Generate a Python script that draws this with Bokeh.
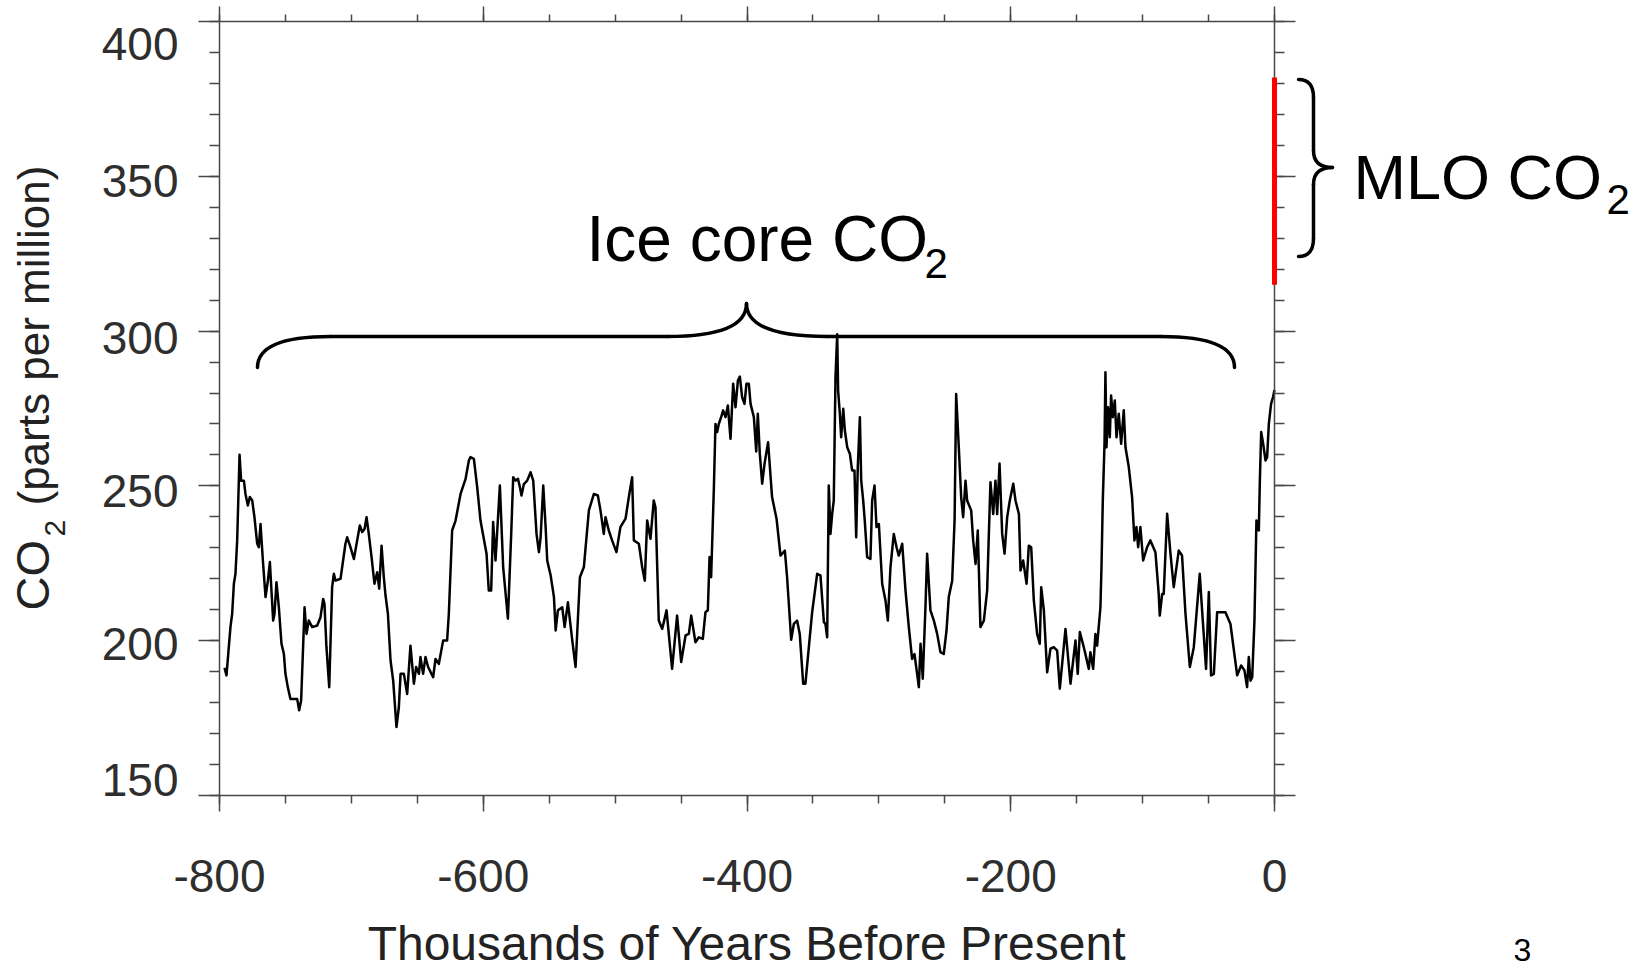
import math
from bokeh.plotting import figure
from bokeh.models import (LinearAxis, SingleIntervalTicker, Label, Range1d,
                          CustomLabelingPolicy)
from bokeh.embed import file_html
from bokeh.resources import INLINE

# ---------------- data ----------------
kyr_bp = [
    -796.2, -794.7, -791.7, -790.4, -789.1, -787.9, -786.6, -784.8, -783.6, -781.5,
    -780.3, -778.5, -777.0, -775.2, -773.5, -771.4, -770.2, -768.9, -767.1, -765.1,
    -763.3, -761.8, -760.6, -759.3, -758.3, -756.8, -755.0, -753.0, -751.2, -750.0,
    -748.2, -746.2, -743.6, -741.1, -739.6, -738.1, -735.5, -734.0, -732.3, -729.7,
    -725.9, -723.4, -721.4, -720.4, -718.9, -716.8, -714.6, -713.3, -712.0, -708.2,
    -704.5, -703.2, -700.7, -698.1, -695.6, -693.6, -691.8, -690.0, -688.5, -686.8,
    -684.7, -682.5, -680.4, -678.9, -677.1, -675.4, -674.1, -672.3, -670.3, -668.3,
    -665.8, -664.0, -662.7, -660.2, -657.7, -655.2, -652.6, -650.9, -648.8, -647.6,
    -645.6, -643.8, -641.8, -638.0, -636.2, -633.7, -630.4, -627.4, -626.1, -623.6,
    -621.0, -617.2, -613.4, -610.9, -609.7, -607.1, -604.6, -602.1, -597.5, -595.8,
    -594.0, -592.5, -590.7, -587.4, -584.9, -581.3, -578.8, -577.3, -575.5, -573.7,
    -572.2, -571.0, -569.2, -566.7, -564.1, -562.1, -559.6, -557.8, -556.5, -554.5,
    -552.7, -551.5, -548.9, -546.4, -545.1, -543.4, -540.1, -538.3, -535.8, -532.5,
    -530.0, -526.7, -523.7, -519.9, -516.1, -513.1,
    -511.1, -508.6, -507.3, -504.8, -502.3, -499.0, -496.0, -492.1, -489.6, -487.1,
    -485.8, -482.0, -479.5, -477.5, -475.7, -473.2, -470.7, -469.4, -466.9, -464.3,
    -461.0, -456.8, -453.0, -449.9, -446.6, -444.1, -442.3, -439.1, -436.5, -433.5,
    -431.5, -429.7, -428.4, -427.2, -425.1, -423.9, -422.6, -421.4, -419.6, -418.1,
    -416.3, -414.5, -412.5, -410.5, -408.7, -406.9, -405.4, -403.7, -401.9, -400.4,
    -398.6, -397.3, -394.8, -393.0, -391.8, -390.3, -388.5, -386.7, -384.0, -381.0,
    -377.6, -374.6, -371.3, -369.6, -366.5, -364.5, -362.0, -360.0, -357.4, -355.7,
    -353.1, -350.6, -346.8, -344.3, -341.7, -340.5, -339.2, -338.0, -336.7, -335.4,
    -334.2, -332.9, -331.6, -330.9, -329.6, -328.6, -327.0, -325.8, -324.0, -322.0,
    -320.3, -318.5, -317.2, -316.0, -314.4, -313.4, -311.9, -310.7, -308.9, -306.4,
    -305.1, -303.3, -301.8, -300.0, -297.5, -295.0, -293.2, -291.2, -288.7, -286.6,
    -284.9, -282.3, -279.8, -277.3, -274.8, -273.0, -271.0, -269.7, -268.4, -266.7,
    -264.6, -263.4, -260.9, -258.3, -255.8, -253.3, -250.8, -248.7, -247.0, -244.4,
    -242.6, -241.4, -239.4, -237.6, -236.1, -234.3, -233.1, -230.0, -228.5, -226.7,
    -225.0, -223.0, -220.4, -217.9, -215.4, -213.3, -211.6, -210.3, -208.5, -206.5,
    -204.7, -202.7, -200.7, -198.1, -196.4, -193.8, -192.6, -190.6, -188.0, -186.3,
    -184.5, -182.5, -180.0, -178.0, -176.9, -174.9, -172.4,
    -169.9, -167.4, -164.8, -162.8, -158.5, -154.7, -150.9, -149.2, -147.6, -144.6,
    -140.8, -139.6, -137.5, -135.8, -134.5, -133.3, -132.0, -131.2, -130.2, -128.9,
    -128.2, -127.4, -126.2, -124.9, -123.9, -122.6, -121.1, -119.8, -118.1, -116.3,
    -114.3, -113.0, -110.5, -108.0, -106.2, -104.7, -103.4, -101.7, -99.6, -96.6,
    -94.1, -90.3, -87.8, -87.0, -85.2, -84.0, -81.4, -78.9, -76.4, -72.6,
    -70.1, -67.5, -64.2, -61.2, -56.7, -54.9, -51.9, -49.8, -48.1, -46.0,
    -43.5, -37.2, -33.4, -28.3, -25.3, -22.8, -20.8, -19.5, -18.2, -16.9,
    -15.2, -13.7, -11.9, -11.1, -10.1, -8.6, -6.8, -5.6, -4.3, -2.6,
    -1.1, 0.0,
]
co2_ppm = [
    191.2, 188.8, 204.4, 208.7, 218.4, 221.6, 232.4, 260.1, 251.7, 251.7,
    247.4, 243.7, 246.4, 245.3, 239.9, 231.3, 230.2, 237.7, 225.9, 214.1,
    219.4, 225.4, 216.2, 206.5, 208.7, 218.9, 210.8, 199.0, 195.8, 189.3,
    185.0, 181.2, 181.2, 181.2, 177.5, 180.7, 210.8, 202.2, 206.5, 204.4,
    204.9, 207.6, 213.5, 211.9, 197.9, 185.0, 217.3, 221.6, 219.4, 220.0,
    231.3, 233.4, 230.2, 226.4, 232.4, 237.2, 235.1, 236.1, 239.9, 234.5,
    227.0, 218.4, 222.1, 216.8, 230.7, 220.5, 214.6, 208.7, 193.6, 187.1,
    172.1, 178.5, 189.3, 189.3, 182.8, 198.4, 186.1, 191.5, 189.3, 194.7,
    189.3, 194.7, 191.5, 188.2, 194.1, 192.5, 200.1, 200.1, 208.7, 235.6,
    238.8, 247.4, 252.3, 258.2, 259.3, 258.7, 249.6, 238.8, 228.1, 216.2,
    216.2, 238.3, 225.9, 250.1, 223.8, 207.1, 234.5, 252.8, 251.7, 252.3,
    249.6, 246.9, 250.6, 251.7, 254.4, 251.7, 234.5, 228.6, 233.4, 250.1,
    236.7, 225.9, 221.1, 214.1, 203.3, 209.8, 210.8, 204.4, 212.4, 200.1,
    191.5, 220.5, 223.8, 242.1, 247.4, 246.9,
    242.1, 234.5, 239.9, 235.6, 232.4, 228.6, 236.7, 239.4, 246.4, 252.8,
    232.4, 231.3, 223.8, 219.4, 238.8, 232.9, 245.3, 243.1, 206.5, 203.8,
    209.8, 190.9, 208.1, 193.1, 201.7, 202.2, 208.1, 199.5, 201.1, 200.6,
    209.2, 209.8, 227.0, 220.5, 249.6, 270.0, 267.4, 270.0, 272.2, 274.4,
    272.2, 276.0, 265.2, 283.0, 275.4, 284.0, 285.3, 278.7, 276.5, 283.0,
    283.0, 276.5, 272.2, 261.1, 273.3, 260.5, 250.7, 257.2, 264.1, 246.4,
    239.4, 227.5, 229.1, 220.5, 200.3, 205.4, 206.5, 202.2, 186.1, 186.1,
    197.9, 209.2, 221.6, 221.1, 206.0, 205.4, 201.1, 250.1, 234.5, 241.0,
    245.3, 285.1, 299.0, 280.8, 273.3, 265.7, 274.9, 267.9, 262.5, 260.4,
    255.0, 255.0, 233.4, 256.1, 272.2, 251.8, 245.3, 238.8, 227.0, 226.4,
    245.3, 250.1, 236.7, 237.7, 218.4, 213.0, 206.5, 223.8, 234.5, 230.2,
    227.5, 231.3, 216.2, 204.4, 194.1, 195.7, 189.3, 185.0, 199.0, 187.7,
    211.9, 228.1, 209.8, 206.5, 202.2, 196.3, 195.7, 203.3, 214.1, 219.4,
    238.8, 279.7, 262.5, 246.4, 239.9, 251.7, 245.3, 242.1, 232.4, 224.8,
    235.6, 204.4, 206.5, 216.2, 251.2, 240.9, 251.7, 240.9, 257.2, 234.5,
    228.1, 239.9, 245.3, 250.7, 245.3, 240.9, 222.7, 225.9, 218.4, 230.7,
    230.2, 213.0, 202.2, 199.0, 217.3, 209.8, 189.8,
    197.4, 197.9, 196.8, 184.5, 203.8, 186.1, 200.1, 189.3, 202.8, 197.9,
    190.9, 196.3, 190.9, 202.2, 198.4, 204.4, 210.8, 223.8, 245.3, 263.6,
    286.7, 262.5, 275.4, 265.7, 279.2, 272.2, 277.6, 265.7, 273.3, 263.6,
    274.4, 262.5, 256.1, 246.4, 232.4, 236.7, 230.2, 236.7, 225.9, 230.2,
    232.4, 228.6, 215.1, 208.1, 215.1, 215.1, 241.0, 228.1, 217.3, 229.1,
    227.5, 208.7, 191.5, 197.9, 221.6, 209.8, 190.9, 215.7, 188.8, 189.3,
    209.2, 209.2, 205.4, 188.8, 192.0, 190.4, 185.0, 194.7, 187.1, 188.2,
    206.5, 238.8, 235.6, 251.7, 267.4, 263.6, 258.2, 259.3, 270.0, 276.5,
    278.7, 281.0,
]
# Mauna Loa (MLO) record, plotted at ~0 kyr BP
mlo_kyr = [0.0, 0.0]
mlo_co2 = [315.0, 381.9]

x_ticks = [-800, -600, -400, -200, 0]
x_tick_labels = ["-800", "-600", "-400", "-200", "0"]
y_ticks = [150, 200, 250, 300, 350, 400]
y_tick_labels = ["150", "200", "250", "300", "350", "400"]

# ---------------- layout ----------------
W, H = 1650, 970
FRAME_L, FRAME_R, FRAME_T, FRAME_B = 219, 1274, 21, 795   # px of plotted box
X0, X1, Y0, Y1 = -800, 0, 150, 400
KX = (FRAME_R - FRAME_L) / (X1 - X0)
KY = (FRAME_B - FRAME_T) / (Y1 - Y0)


def dx(px):
    return X0 + (px - FRAME_L) / KX


def dy(py):
    return Y0 + (FRAME_B - py) / KY


FONT = "Liberation Sans"
AXIS_COLOR = "#474747"
LABEL_COLOR = "#2e2e2e"
BASE_SHIFT = 0.377   # label baseline correction (fraction of font size)

p = figure(width=W, height=H, output_backend="svg", toolbar_location=None,
           x_range=Range1d(dx(0), dx(W)), y_range=Range1d(dy(H), dy(0)),
           x_axis_type=None, y_axis_type=None, title=None, min_border=0)
p.outline_line_color = None
p.background_fill_color = "white"
p.border_fill_color = "white"
p.grid.visible = False

no_labels = CustomLabelingPolicy(code="for (const i of indices) indices.unset(i)")


def style_axis(ax, major_out, minor_out):
    ax.axis_line_color = AXIS_COLOR
    ax.axis_line_width = 1.5
    ax.major_tick_line_color = AXIS_COLOR
    ax.major_tick_line_width = 1.5
    ax.minor_tick_line_color = AXIS_COLOR
    ax.minor_tick_line_width = 1.5
    ax.major_tick_in = 0
    ax.minor_tick_in = 0
    ax.major_tick_out = major_out
    ax.minor_tick_out = minor_out
    ax.major_label_text_font = FONT
    ax.major_label_text_color = LABEL_COLOR
    ax.axis_label_text_font = FONT
    ax.axis_label_text_font_style = "normal"
    ax.axis_label_text_color = "#222222"


xb = LinearAxis(ticker=SingleIntervalTicker(interval=200, num_minor_ticks=4),
                fixed_location=Y0, bounds=(X0, X1),
                axis_label="Thousands of Years Before Present")
style_axis(xb, 16, 8)
xb.major_label_overrides = {t: s for t, s in zip(x_ticks, x_tick_labels)}
xb.major_label_text_font_size = "46px"
xb.major_label_standoff = 48
xb.axis_label_text_font_size = "48px"
xb.axis_label_standoff = 22
p.add_layout(xb, "below")

xt = LinearAxis(ticker=SingleIntervalTicker(interval=200, num_minor_ticks=4),
                fixed_location=Y1, bounds=(X0, X1), major_label_policy=no_labels)
style_axis(xt, 15, 7)
p.add_layout(xt, "above")

yl = LinearAxis(ticker=SingleIntervalTicker(interval=50, num_minor_ticks=5),
                fixed_location=X0, bounds=(Y0, Y1), major_label_policy=no_labels)
style_axis(yl, 21, 10)
p.add_layout(yl, "left")

yr = LinearAxis(ticker=SingleIntervalTicker(interval=50, num_minor_ticks=5),
                fixed_location=X1, bounds=(Y0, Y1), major_label_policy=no_labels)
style_axis(yr, 21, 10)
p.add_layout(yr, "right")

# ice core record
p.line(kyr_bp, co2_ppm, line_color="black", line_width=2.5, line_join="round")

# MLO record (red bar at present), drawn above the axis line
p.line(mlo_kyr, mlo_co2, line_color="#ff0000", line_width=5, level="annotation")

# ---- curly braces (annotation geometry, in px of the picture) ----
BR_W = 3.5
ice_q = [  # (start, control, end)
    ((257, 367), (257, 336), (330, 336)),
    ((667, 336), (746, 336), (746, 303)),
    ((746, 303), (746, 336), (827, 336)),
    ((1160, 336), (1234, 336), (1234, 367)),
]
ice_s = [((330, 336), (667, 336)), ((827, 336), (1160, 336))]
mlo_q = [
    ((1298, 79), (1313, 79), (1313, 97)),
    ((1313, 150), (1313, 167), (1332, 167)),
    ((1332, 167), (1313, 167), (1313, 184)),
    ((1313, 238), (1313, 256), (1298, 256)),
]
mlo_s = [((1313, 97), (1313, 150)), ((1313, 184), (1313, 238))]
quads = ice_q + mlo_q
segs = ice_s + mlo_s
p.quadratic(x0=[dx(a[0]) for a, c, b in quads], y0=[dy(a[1]) for a, c, b in quads],
            x1=[dx(b[0]) for a, c, b in quads], y1=[dy(b[1]) for a, c, b in quads],
            cx=[dx(c[0]) for a, c, b in quads], cy=[dy(c[1]) for a, c, b in quads],
            line_color="black", line_width=BR_W, line_cap="round")
p.segment(x0=[dx(a[0]) for a, b in segs], y0=[dy(a[1]) for a, b in segs],
          x1=[dx(b[0]) for a, b in segs], y1=[dy(b[1]) for a, b in segs],
          line_color="black", line_width=BR_W, line_cap="round")


# ---- texts ----
def add_text(px, baseline_py, text, size, color="black", align="left", angle=0.0):
    shift = BASE_SHIFT * size
    if angle == 0.0:
        x, y = dx(px), dy(baseline_py - shift)
    else:   # rotated 90 deg: baseline is a vertical line at px
        x, y = dx(px - shift), dy(baseline_py)
    p.add_layout(Label(x=x, y=y, text=text, text_font=FONT,
                       text_font_size=f"{size}px", text_color=color,
                       text_align=align, text_baseline="alphabetic", angle=angle))


add_text(586, 263, "Ice core CO", 64)
add_text(924, 279, "2", 42)
add_text(1353, 200, "MLO CO", 63)
add_text(1606, 215, "2", 42)
add_text(1513, 962, "3", 32)

# y tick labels (nudged as in the picture: baseline below tick centre)
y_label_nudge = [-15, 4, 6, 8, 6, 23]
for t, s, n in zip(y_ticks, y_tick_labels, y_label_nudge):
    centre_py = FRAME_B - (t - Y0) * KY + n
    add_text(178, centre_py + 0.358 * 46, s, 46, color=LABEL_COLOR, align="right")

# y axis title with a real subscript
add_text(50, 610, "CO", 47, color="#222222", angle=math.pi / 2)
add_text(66, 536, "2", 30, color="#222222", angle=math.pi / 2)
add_text(50, 505, " (parts per million)", 44, color="#222222", angle=math.pi / 2)

open("out.html", "w").write(file_html(p, INLINE))
